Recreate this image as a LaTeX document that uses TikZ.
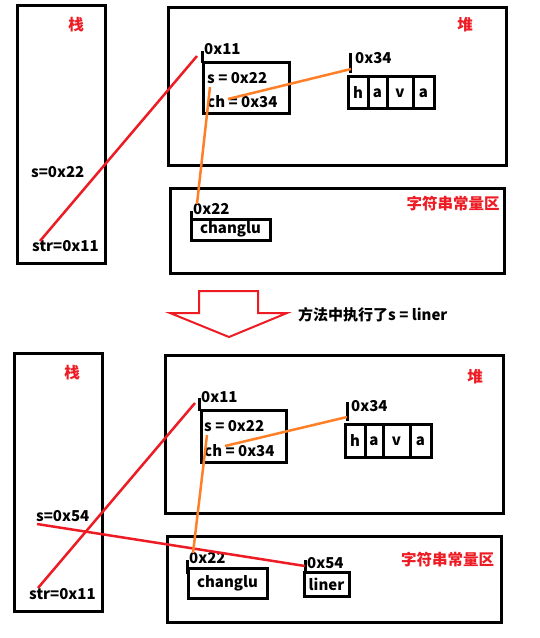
\documentclass[tikz,border=0pt]{standalone}
\usepackage{fontspec}
\setmainfont{Noto Sans CJK SC}
\definecolor{mspred}{HTML}{ED1C24}
\definecolor{mspor}{HTML}{FF7F27}
\begin{document}
\begin{tikzpicture}[x=1pt,y=-1pt,
  box/.style={draw=black,line width=3pt},
  lbl/.style={inner sep=0pt,anchor=west,font=\fontsize{15}{15}\selectfont\bfseries},
  rlbl/.style={inner sep=0pt,text=mspred,font=\fontsize{15.5}{15.5}\selectfont\bfseries},
  tick/.style={draw=black,line width=3pt},
  redln/.style={draw=mspred,line width=2.5pt},
  orln/.style={draw=mspor,line width=2.5pt}]
\useasboundingbox (0,0) rectangle (540,638);
\fill[white] (0,0) rectangle (540,638);
% ================= TOP =================
\draw[box] (17,5) rectangle (105,263);
\node[rlbl] (stackT) at (76,25) {栈};
\node[lbl] (sT) at (31,172) {s=0x22};
\node[lbl] (strT) at (32,246) {str=0x11};
\draw[box] (168,7) rectangle (506,165);
\node[rlbl] (heapT) at (465,25) {堆};
\draw[tick] (202,51) -- (202,63);
\node[lbl] (a11T) at (204,49) {0x11};
\draw[box] (203,62) rectangle (289,113);
\node[lbl] (objsT) at (207,78) {s = 0x22};
\node[lbl] (objchT) at (207,102) {ch = 0x34};
\draw[tick] (350,53) -- (350,73);
\node[lbl] (a34T) at (355,58) {0x34};
\draw[box] (348,76) rectangle (434,108);
\draw[line width=3pt] (368,76) -- (368,108) (387,76) -- (387,110) (413,76) -- (413,108);
\node[lbl,anchor=center] at (358,93) {h};
\node[lbl,anchor=center] at (377.5,93) {a};
\node[lbl,anchor=center] at (400,93) {v};
\node[lbl,anchor=center] at (423.5,93) {a};
\draw[box] (170,188) rectangle (504,273);
\node[rlbl] (poolT) at (453,204) {字符串常量区};
\draw[tick] (191,211) -- (191,227);
\node[lbl] (a22T) at (193,209) {0x22};
\draw[box] (191,219) rectangle (270,240);
\node[lbl,anchor=center] (changluT) at (230.5,229.5) {changlu};
\coordinate (p1) at (40,241); \coordinate (p2) at (197,56);
\draw[redln] (p1) -- (p2);
\coordinate (o1) at (210,87); \coordinate (o2) at (197,204);
\draw[orln] (o1) -- (o2);
\coordinate (o3) at (228,99); \coordinate (o4) at (351,69);
\draw[orln] (o3) -- (o4);
% ================= ARROW =================
\draw[draw=mspred,line width=2pt,line join=miter]
  (199,291) -- (258,291) -- (258,313) -- (287,313) -- (229,337) -- (170,313) -- (199,313) -- cycle;
\node[lbl] (note) at (298,315) {方法中执行了s = liner};
% ================= BOTTOM =================
\draw[box] (14,353) rectangle (102,611);
\node[rlbl] (stackB) at (72,373) {栈};
\node[lbl] (sB) at (36,516) {s=0x54};
\node[lbl] (strB) at (29,594) {str=0x11};
\draw[box] (165,355) rectangle (503,513);
\node[rlbl] (heapB) at (475,377) {堆};
\draw[tick] (199,398) -- (199,411);
\node[lbl] (a11B) at (201,397) {0x11};
\draw[box] (201,410) rectangle (286,462);
\node[lbl] (objsB) at (204,426) {s = 0x22};
\node[lbl] (objchB) at (204,451) {ch = 0x34};
\draw[tick] (347,402) -- (347,421);
\node[lbl] (a34B) at (351,406) {0x34};
\draw[box] (345,424) rectangle (431,457);
\draw[line width=3pt] (365,424) -- (365,457) (383,424) -- (383,459) (410,424) -- (410,457);
\node[lbl,anchor=center] at (355,441) {h};
\node[lbl,anchor=center] at (374,441) {a};
\node[lbl,anchor=center] at (396.5,441) {v};
\node[lbl,anchor=center] at (420.5,441) {a};
\draw[box] (167,536) rectangle (501,622);
\node[rlbl] (poolB) at (447.5,560) {字符串常量区};
\draw[tick] (187,560) -- (187,574);
\node[lbl] (a22B) at (189,558) {0x22};
\draw[box] (188,568) rectangle (267,598);
\node[lbl,anchor=center] (changluB) at (227.5,583) {changlu};
\draw[tick] (305,560) -- (305,572);
\node[lbl] (a54B) at (307,563) {0x54};
\draw[box] (304,572) rectangle (349,596);
\node[lbl,anchor=center] (linerB) at (326.5,584) {liner};
\coordinate (q1) at (38,588); \coordinate (q2) at (195,403);
\draw[redln] (q1) -- (q2);
\coordinate (q3) at (37,524); \coordinate (q4) at (305,566);
\draw[redln] (q3) -- (q4);
\coordinate (r1) at (207,435); \coordinate (r2) at (193,553);
\draw[orln] (r1) -- (r2);
\coordinate (r3) at (225,446); \coordinate (r4) at (347,417);
\draw[orln] (r3) -- (r4);
\end{tikzpicture}
\end{document}
